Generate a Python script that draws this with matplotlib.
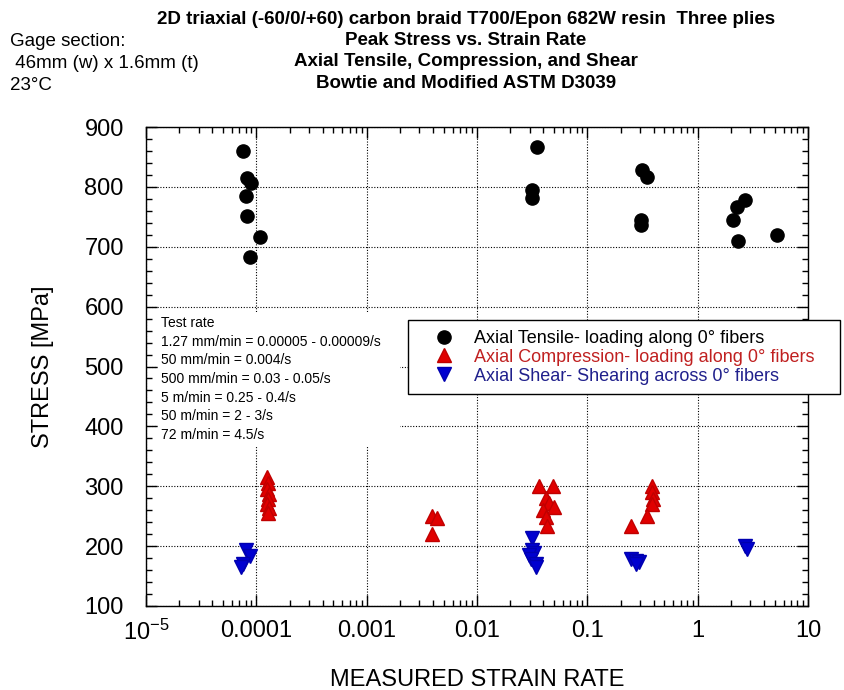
import numpy as np
import matplotlib
matplotlib.use("Agg")
import matplotlib.pyplot as plt
from matplotlib.ticker import FixedLocator, MultipleLocator, LogLocator, NullFormatter
from matplotlib.patches import Rectangle
from matplotlib.lines import Line2D

# data
tensile_rate = [7.5e-5, 8.3e-5, 9.0e-5, 8.1e-5, 8.3e-5, 1.09e-4, 8.8e-5,
                0.0351, 0.0316, 0.0316,
                0.316, 0.344, 0.307, 0.307,
                2.67, 2.26, 2.08, 2.31, 5.22]
tensile_stress = [860, 814, 807, 785, 752, 717, 683,
                  866, 795, 781,
                  828, 816, 744, 736,
                  778, 766, 744, 710, 720]

compression_rate = [1.25e-4, 1.27e-4, 1.25e-4, 1.3e-4, 1.27e-4, 1.25e-4, 1.3e-4, 1.27e-4,
                    0.0039, 0.0043, 0.0039,
                    0.0366, 0.049, 0.0424, 0.045, 0.050, 0.040, 0.042, 0.043,
                    0.382, 0.382, 0.39, 0.382, 0.344, 0.25]
compression_stress = [315, 305, 296, 287, 279, 271, 263, 256,
                      250, 247, 221,
                      300, 300, 280, 272, 266, 260, 249, 233,
                      300, 290, 279, 271, 250, 234]

shear_rate = [8.1e-5, 8.8e-5, 7.6e-5, 7.3e-5,
              0.0316, 0.0316, 0.033, 0.0296, 0.031, 0.034, 0.034,
              0.25, 0.278, 0.294, 0.278,
              2.67, 2.78]
shear_stress = [194, 183, 170, 165,
                214, 194, 189, 186, 178, 170, 165,
                178, 175, 173, 170,
                200, 196]

x_ticks = [1e-5, 1e-4, 1e-3, 1e-2, 1e-1, 1, 10]
x_ticklabels = [r"$\mathregular{10^{-5}}$", "0.0001", "0.001", "0.01", "0.1", "1", "10"]
y_ticks = [100, 200, 300, 400, 500, 600, 700, 800, 900]

title_lines = ["2D triaxial (-60/0/+60) carbon braid T700/Epon 682W resin  Three plies",
               "Peak Stress vs. Strain Rate",
               "Axial Tensile, Compression, and Shear",
               "Bowtie and Modified ASTM D3039"]
gage_lines = ["Gage section:", " 46mm (w) x 1.6mm (t)", "23°C"]
rate_lines = ["Test rate",
              "1.27 mm/min = 0.00005 - 0.00009/s",
              "50 mm/min = 0.004/s",
              "500 mm/min = 0.03 - 0.05/s",
              "5 m/min = 0.25 - 0.4/s",
              "50 m/min = 2 - 3/s",
              "72 m/min = 4.5/s"]
legend_labels = ["Axial Tensile- loading along 0° fibers",
                 "Axial Compression- loading along 0° fibers",
                 "Axial Shear- Shearing across 0° fibers"]

plt.rcParams['font.family'] = ['Liberation Sans', 'DejaVu Sans']
plt.rcParams['mathtext.default'] = 'regular'

W, H = 844, 690
fig = plt.figure(figsize=(W / 100, H / 100), dpi=100)
fig.patch.set_facecolor('white')


def fx(x):
    return x / W


def fy(y):
    return 1 - y / H


ax = fig.add_axes([fx(146), fy(606), fx(808) - fx(146), fy(127) - fy(606)])

ax.plot(tensile_rate, tensile_stress, 'o', color='black', markersize=9.5, zorder=3)
ax.plot(compression_rate, compression_stress, '^', color='#e00000', mec='#c00000',
        markersize=10.5, zorder=3)
ax.plot(shear_rate, shear_stress, 'v', color='#0000d0', mec='#0000b0',
        markersize=10.5, zorder=3)

ax.set_xscale('log')
ax.set_xlim(1e-5, 10)
ax.set_ylim(100, 900)
ax.xaxis.set_major_locator(FixedLocator(x_ticks))
ax.set_xticklabels(x_ticklabels)
ax.xaxis.set_minor_locator(LogLocator(base=10, subs=np.arange(2, 10)))
ax.xaxis.set_minor_formatter(NullFormatter())
ax.set_yticks(y_ticks)
ax.yaxis.set_minor_locator(MultipleLocator(20))

ax.tick_params(which='both', direction='in', top=True, right=True, labelsize=17, width=1)
ax.tick_params(which='major', length=8)
ax.tick_params(which='minor', length=4)
ax.tick_params(axis='x', pad=10)
ax.tick_params(axis='y', pad=16)
ax.grid(True, which='major', color='black', linestyle=(0, (1, 1.5)), linewidth=0.8)
for s in ax.spines.values():
    s.set_linewidth(1)

ax.set_xlabel("MEASURED STRAIN RATE", fontsize=17, labelpad=17)
ax.set_ylabel("STRESS [MPa]", fontsize=17, labelpad=22)

# titles
for i, line in enumerate(title_lines):
    fig.text(fx(466), fy(19 + 21.5 * i), line, ha='center', va='center',
             fontsize=13.5, fontweight='bold')
for i, line in enumerate(gage_lines):
    fig.text(fx(10), fy(42 + 21.5 * i), line, ha='left', va='center', fontsize=13.5)

# test rate box
fig.patches.append(Rectangle((fx(158), fy(447)), fx(400) - fx(158), fy(312) - fy(447),
                             transform=fig.transFigure, facecolor='white',
                             edgecolor='none', zorder=1))
for i, line in enumerate(rate_lines):
    fig.text(fx(161), fy(323 + 18.7 * i), line, ha='left', va='center', fontsize=10,
             zorder=2)

# legend
handles = [Line2D([], [], ls='none', marker='o', color='black', markersize=9.5),
           Line2D([], [], ls='none', marker='^', color='#e00000', mec='#c00000', markersize=10.5),
           Line2D([], [], ls='none', marker='v', color='#0000d0', mec='#0000b0', markersize=10.5)]
leg = fig.legend(handles, legend_labels, loc='upper left',
                 bbox_to_anchor=(fx(408), fy(396), fx(840) - fx(408), fy(320) - fy(396)),
                 mode='expand', borderaxespad=0, fontsize=13, frameon=True, fancybox=False,
                 edgecolor='black', framealpha=1, borderpad=0.55, labelspacing=0.1,
                 handlelength=2.88, handletextpad=0.23)
leg.get_frame().set_linewidth(1)
for t, c in zip(leg.get_texts(), ['black', '#c02020', '#20208c']):
    t.set_color(c)

fig.savefig("out.png", dpi=100)
